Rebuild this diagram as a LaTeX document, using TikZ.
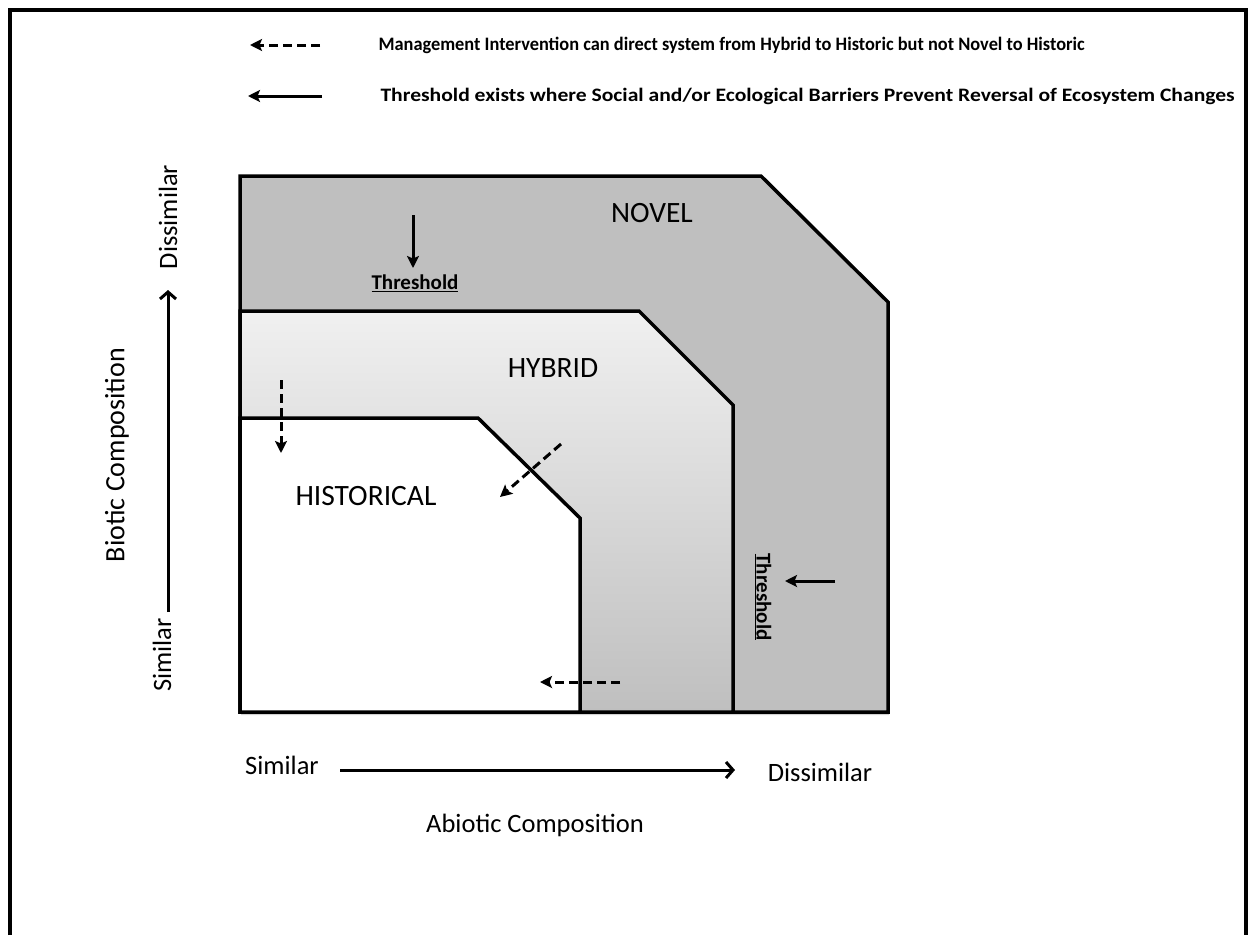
\documentclass[tikz,border=0pt]{standalone}
\usepackage{fontspec}
\setmainfont{Carlito}
\usetikzlibrary{arrows.meta,shadows,positioning}

\definecolor{novelgray}{HTML}{BFBFBF}
\definecolor{hybridtop}{HTML}{F0F0F0}

\tikzset{
  zone/.style={draw=black,line width=3.5pt,line join=miter},
  solidarrow/.style={line width=3pt,-{Stealth[length=12pt,width=12pt,inset=2.5pt]}},
  dasharrow/.style={solidarrow,dash pattern=on 9pt off 5pt},
  axisarrow/.style={line width=3pt,-{Straight Barb[length=7pt,width=16pt,line width=3pt]}},
  zonelabel/.style={font=\fontsize{29.5}{34}\selectfont},
  axislabel/.style={font=\fontsize{26.5}{31}\selectfont},
  legendtext/.style={anchor=west,font=\bfseries\fontsize{19}{23}\selectfont},
  thresholdlabel/.style={font=\bfseries\fontsize{21}{25}\selectfont}
}

\begin{document}
\begin{tikzpicture}[x=1pt,y=-1pt]

\useasboundingbox (0,0) rectangle (1248,935);

% frame, open at the bottom
\coordinate (frameBL) at (10,935);
\coordinate (frameTL) at (10,10);
\coordinate (frameTR) at (1246,10);
\coordinate (frameBR) at (1246,935);
\draw[line width=3.5pt] (frameBL) -- (frameTL) -- (frameTR) -- (frameBR);

% the three zones
\filldraw[zone,fill=novelgray,drop shadow={shadow xshift=1pt,shadow yshift=-3pt,opacity=.35}]
  (240,176) -- (761,176) -- (888,302) -- (888,712) -- (240,712) -- cycle;
\filldraw[zone,top color=hybridtop,bottom color=novelgray]
  (240,311) -- (639,311) -- (733,405) -- (733,712) -- (240,712) -- cycle;
\filldraw[zone,fill=white]
  (240,418) -- (478,418) -- (580,518) -- (580,712) -- (240,712) -- cycle;

\node[zonelabel] (novel) at (652,213) {NOVEL};
\node[zonelabel] (hybrid) at (553,368) {HYBRID};
\node[zonelabel] (historical) at (366,496) {HISTORICAL};

\node[thresholdlabel] (thrtop) at (415,283) {\underline{Threshold}};
\node[thresholdlabel,rotate=-90] (thrright) at (763,597) {\underline{Threshold}};

% legend
\coordinate (legdashA) at (320,45);
\coordinate (legdashB) at (250,45);
\coordinate (legsolidA) at (322,96);
\coordinate (legsolidB) at (248,96);
\draw[dasharrow] (legdashA) -- (legdashB);
\draw[solidarrow] (legsolidA) -- (legsolidB);
\node[legendtext] (legdash) at (375,45) {\scalebox{0.966}[1]{Management Intervention can direct system from Hybrid to Historic but not Novel to Historic}};
\node[legendtext] (legsolid) at (377,96) {\scalebox{1.137}[1]{Threshold exists where Social and/or Ecological Barriers Prevent Reversal of Ecosystem Changes}};

% arrows inside the zones
\coordinate (novdownA) at (413,215);
\coordinate (novdownB) at (413,268);
\coordinate (hybdownA) at (281,380);
\coordinate (hybdownB) at (281,453);
\coordinate (hybdiagA) at (561,444);
\coordinate (hybdiagB) at (500,497);
\coordinate (hybleftA) at (620,682);
\coordinate (hybleftB) at (540,682);
\coordinate (novleftA) at (835,581);
\coordinate (novleftB) at (785,581);
\draw[solidarrow] (novdownA) -- (novdownB);
\draw[dasharrow] (hybdownA) -- (hybdownB);
\draw[dasharrow] (hybdiagA) -- (hybdiagB);
\draw[dasharrow] (hybleftA) -- (hybleftB);
\draw[solidarrow] (novleftA) -- (novleftB);

% axes
\node[axislabel] (xsim) at (282,765) {Similar};
\node[axislabel] (xdis) at (820,772) {Dissimilar};
\node[axislabel] (xname) at (535,825) {Abiotic Composition};
\node[axislabel,rotate=90] (ysim) at (162,655) {Similar};
\node[axislabel,rotate=90] (ydis) at (168,217) {Dissimilar};
\node[axislabel,rotate=90,font=\fontsize{28}{33}\selectfont] (yname) at (117,455) {Biotic Composition};
\coordinate (xaxisA) at (340,770);
\coordinate (xaxisB) at (735,770);
\coordinate (yaxisA) at (168,612);
\coordinate (yaxisB) at (168,290);
\draw[axisarrow] (xaxisA) -- (xaxisB);
\draw[axisarrow] (yaxisA) -- (yaxisB);

\end{tikzpicture}
\end{document}
